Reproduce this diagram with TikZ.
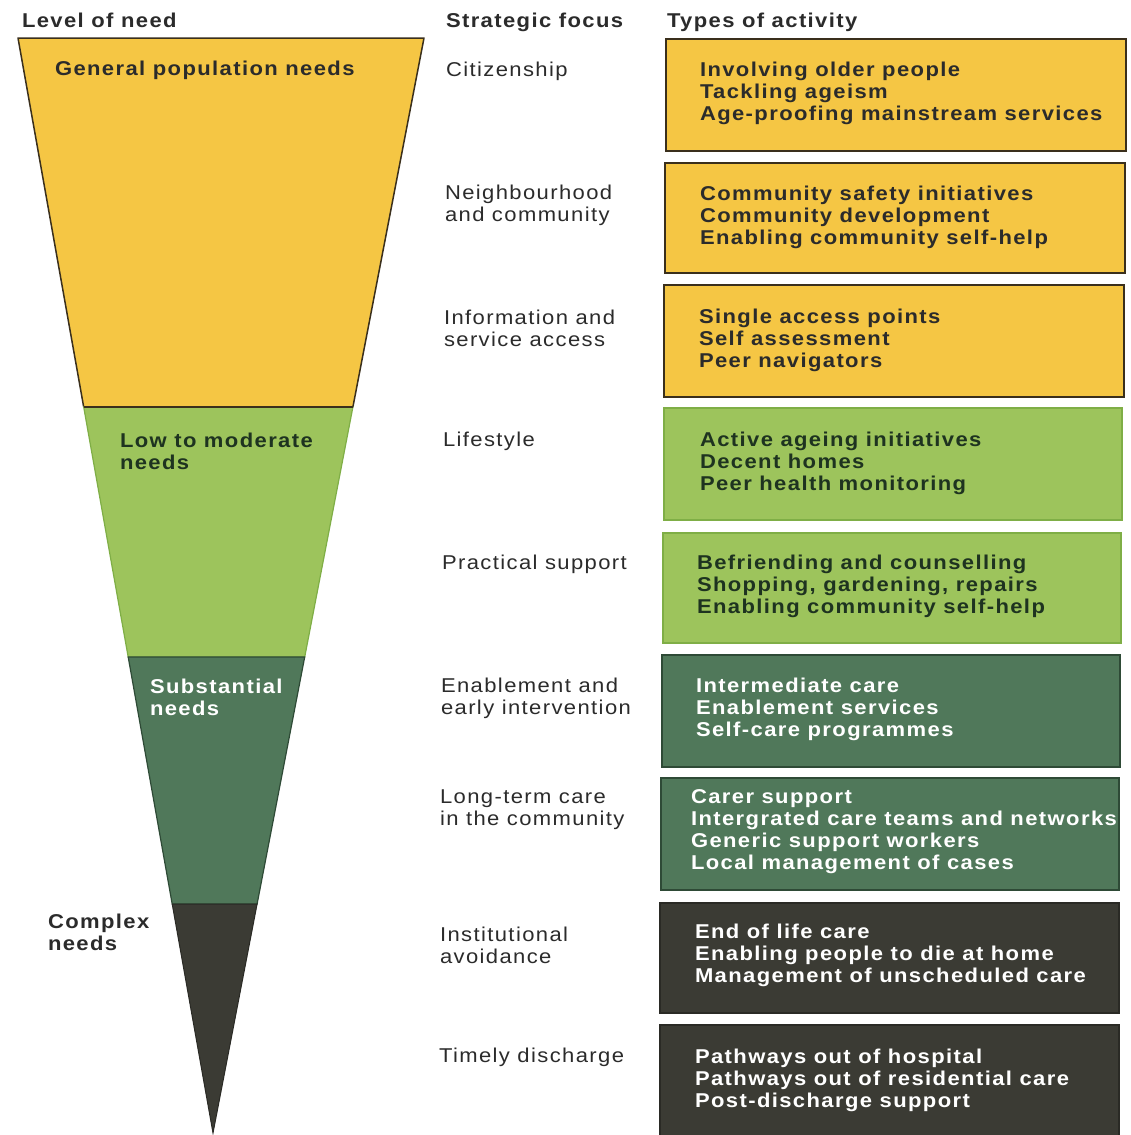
\documentclass[tikz,border=0pt]{standalone}
\usepackage{fontspec}
\setmainfont{Liberation Sans}[LetterSpace=7, FakeStretch=1.1]
\definecolor{yel}{HTML}{F5C644}
\definecolor{yeledge}{HTML}{3A2F1C}
\definecolor{lgr}{HTML}{9DC45C}
\definecolor{lgredge}{HTML}{7FAE46}
\definecolor{dgr}{HTML}{50785A}
\definecolor{dgredge}{HTML}{2E4A36}
\definecolor{dk}{HTML}{3B3B34}
\definecolor{dkedge}{HTML}{2A2A25}
\definecolor{ink}{HTML}{2B2B2B}
\definecolor{ginkk}{HTML}{1E3320}
\begin{document}
\begin{tikzpicture}[x=1pt,y=-1pt,
  txt/.style={inner sep=0pt, outer sep=0pt, anchor=west, align=left,
    font=\fontsize{20}{22}\selectfont},
  head/.style={txt, font=\fontsize{20}{22}\selectfont\bfseries, text=ink},
  focus/.style={txt, text=ink},
  lvl/.style={txt, font=\fontsize{20}{22}\selectfont\bfseries},
  act/.style={txt, font=\fontsize{20}{22}\selectfont\bfseries},
  box/.style={line width=1.5pt}
]
\useasboundingbox (0,0) rectangle (1130,1135);
\clip (0,0) rectangle (1130,1135);
\fill[white] (0,0) rectangle (1130,1135);

% funnel segments
\filldraw[fill=yel, draw=yeledge, line width=1.5pt, line join=round]
  (18,38) -- (424,38) -- (352.9,407) -- (83.7,407) -- cycle;
\filldraw[fill=lgr, draw=lgredge, line width=1.2pt]
  (83.7,407) -- (352.9,407) -- (304.7,657) -- (128.2,657) -- cycle;
\filldraw[fill=dgr, draw=dgredge, line width=1.2pt]
  (128.2,657) -- (304.7,657) -- (257.1,904) -- (172.2,904) -- cycle;
\filldraw[fill=dk, draw=dkedge, line width=1pt]
  (172.2,904) -- (257.1,904) -- (213,1133) -- cycle;
\draw[yeledge, line width=1.5pt] (83.7,407) -- (352.9,407);

% headers
\node[head] (hlevel) at (22,20) {Level of need};
\node[head] (hfocus) at (446,22) {Strategic focus};
\node[head] (htype) at (667,22) {Types of activity};

% level labels
\node[lvl, text=ink] (l1) at (55,70) {General population needs};
\node[lvl, text=ginkk] (l2) at (120,451) {Low to moderate\\needs};
\node[lvl, text=white] (l3) at (150,697) {Substantial\\needs};
\node[lvl, text=ink] (l4) at (48,932) {Complex\\needs};

% strategic focus
\node[focus] (f1) at (446,71) {Citizenship};
\node[focus] (f2) at (445,205) {Neighbourhood\\and community};
\node[focus] (f3) at (444,328) {Information and\\service access};
\node[focus] (f4) at (443,441) {Lifestyle};
\node[focus] (f5) at (442,564) {Practical support};
\node[focus] (f6) at (441,698) {Enablement and\\early intervention};
\node[focus] (f7) at (440,810) {Long-term care\\in the community};
\node[focus] (f8) at (440,945) {Institutional\\avoidance};
\node[focus] (f9) at (439,1057) {Timely discharge};

% activity boxes
\filldraw[box, fill=yel, draw=yeledge] (666,39) rectangle (1126,151);
\filldraw[box, fill=yel, draw=yeledge] (665,163) rectangle (1125,273);
\filldraw[box, fill=yel, draw=yeledge] (664,285) rectangle (1124,397);
\filldraw[box, fill=lgr, draw=lgredge] (664,408) rectangle (1122,520);
\filldraw[box, fill=lgr, draw=lgredge] (663,533) rectangle (1121,643);
\filldraw[box, fill=dgr, draw=dgredge] (662,655) rectangle (1120,767);
\filldraw[box, fill=dgr, draw=dgredge] (661,778) rectangle (1119,890);
\filldraw[box, fill=dk, draw=dkedge] (660,903) rectangle (1119,1013);
\filldraw[box, fill=dk, draw=dkedge] (660,1025) rectangle (1119,1145);

\node[act, text=ink] (a1) at (700,93) {Involving older people\\Tackling ageism\\Age-proofing mainstream services};
\node[act, text=ink] (a2) at (700,217) {Community safety initiatives\\Community development\\Enabling community self-help};
\node[act, text=ink] (a3) at (699,340) {Single access points\\Self assessment\\Peer navigators};
\node[act, text=ginkk] (a4) at (700,463) {Active ageing initiatives\\Decent homes\\Peer health monitoring};
\node[act, text=ginkk] (a5) at (697,586) {Befriending and counselling\\Shopping, gardening, repairs\\Enabling community self-help};
\node[act, text=white] (a6) at (696,709) {Intermediate care\\Enablement services\\Self-care programmes};
\node[act, text=white] (a7) at (691,832) {Carer support\\Intergrated care teams and networks\\Generic support workers\\Local management of cases};
\node[act, text=white] (a8) at (695,955) {End of life care\\Enabling people to die at home\\Management of unscheduled care};
\node[act, text=white] (a9) at (695,1080) {Pathways out of hospital\\Pathways out of residential care\\Post-discharge support};
\end{tikzpicture}
\end{document}
